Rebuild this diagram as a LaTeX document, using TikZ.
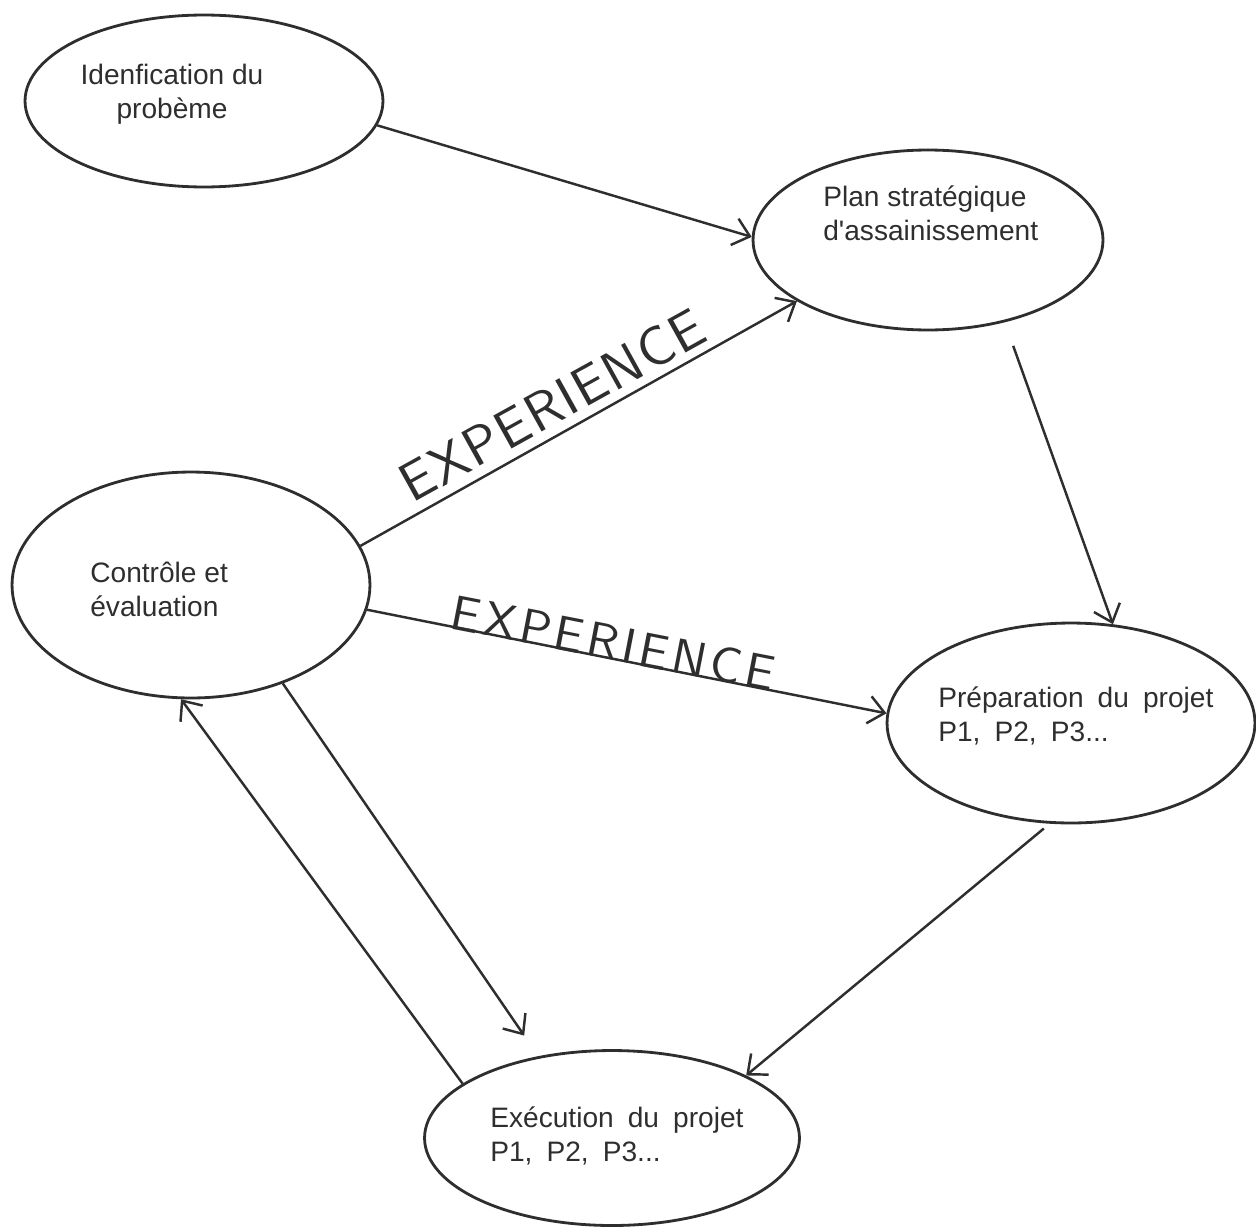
\documentclass[tikz,border=0pt]{standalone}
\usepackage{fontspec}
\setmainfont{Liberation Sans}
\newfontfamily\widefont[WordSpace=1.8]{Liberation Sans}
\newfontfamily\handfont{lmsans10-regular.otf}
\usepackage{xcolor}
\definecolor{Inkgray}{HTML}{2E2E2E}
\usepackage{tikz}
\usetikzlibrary{shapes.geometric, arrows}
\usetikzlibrary{arrows.meta}
\tikzstyle{arrow} = [
    line width=1.4pt,
    Inkgray,
    -{Straight Barb[length=3.2mm,width=5.5mm,line width=1.4pt]}
]
\tikzstyle{bubble} = [
    ellipse,
    draw=Inkgray,
    line width=1.6pt,
    inner sep=0pt
]
\tikzstyle{label} = [
    inner sep=0pt,
    text=Inkgray,
    font=\fontsize{16}{19}\selectfont
]
\tikzstyle{hand} = [
    inner sep=0pt,
    text=Inkgray
]

\begin{document}
\begin{tikzpicture}[x=0.02cm,y=-0.02cm]
    \useasboundingbox (0,0) rectangle (1256,1227);
    % Ellipses
    \node[bubble, minimum width=7.16cm, minimum height=3.44cm] (ident) at (204,101) {};
    \node[bubble, minimum width=7.0cm, minimum height=3.6cm] (plan) at (928,240) {};
    \node[bubble, minimum width=7.16cm, minimum height=4.52cm] (ctrl) at (191,585) {};
    \node[bubble, minimum width=7.36cm, minimum height=4.0cm] (prep) at (1071,723) {};
    \node[bubble, minimum width=7.5cm, minimum height=3.5cm] (exec) at (612,1138) {};
    % Texts (base = last line)
    \node[label, align=center, anchor=base] (identtxt) at (172,118) {Idenfication du\\probème};
    \node[label, align=left, anchor=base west] (plantxt) at (823,240) {Plan stratégique\\d\textquotesingle assainissement};
    \node[label, align=left, anchor=base west] (ctrltxt) at (90,616) {Contrôle et\\évaluation};
    \node[label, align=left, anchor=base west, font=\widefont\fontsize{16}{19}\selectfont] (preptxt) at (938,741) {Préparation du projet\\P1, P2, P3...};
    \node[label, align=left, anchor=base west, font=\widefont\fontsize{16}{19}\selectfont] (exectxt) at (490,1161) {Exécution du projet\\P1, P2, P3...};
    % Arrows
    \draw[arrow] (ident.-8) -- (plan.179);
    \draw[arrow] (ctrl.13) -- (plan.205);
    \draw[arrow] (ctrl.-8) -- (prep.177);
    \draw[arrow, shorten <=0.5cm] (plan.-47) -- (prep.67);
    \draw[arrow, shorten <=0.15cm] (prep.-102) -- (exec.25);
    \draw[arrow, shorten >=0.5cm] (ctrl.-47) -- (exec.132);
    \draw[arrow] (exec.160) -- (ctrl.265);
    % Experience
    \node[hand, rotate=29, font=\handfont\fontsize{31}{33}\selectfont\addfontfeature{LetterSpace=3}] (exp1) at (552,405) {EXPERIENCE};
    \node[hand, rotate=-11, font=\handfont\fontsize{28}{30}\selectfont\addfontfeature{LetterSpace=8}] (exp2) at (613,643) {EXPERIENCE};
\end{tikzpicture}
\end{document}
